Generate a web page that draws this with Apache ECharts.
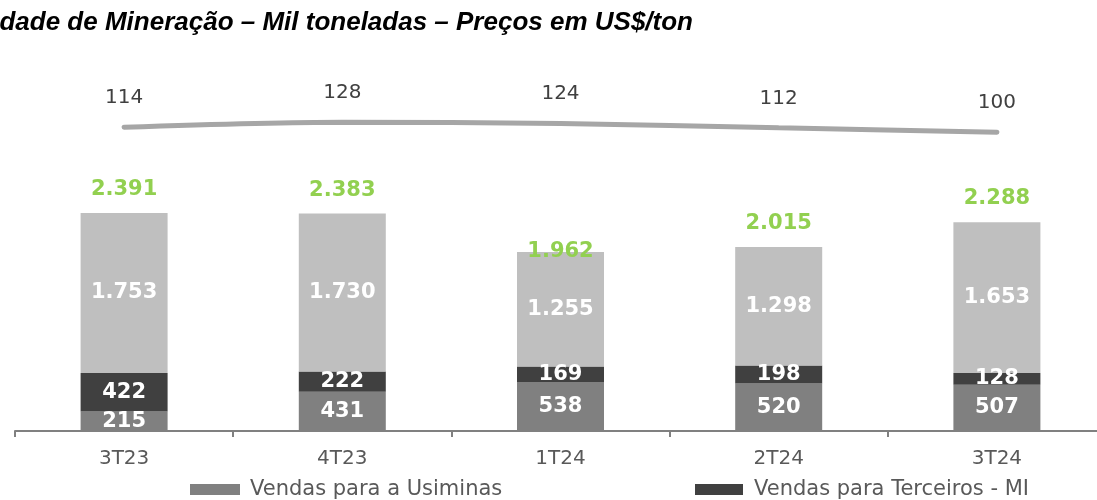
<!DOCTYPE html>
<html>
<head>
<meta charset="utf-8">
<script src="https://cdn.jsdelivr.net/npm/echarts@6/dist/echarts.min.js"></script>
<style>
  html, body { margin: 0; padding: 0; background: #fff; }
  #chart { width: 1097px; height: 500px; }
</style>
</head>
<body>
<div id="chart"></div>
<script>
// trimestres
var quarters = ['3T23', '4T23', '1T24', '2T24', '3T24'];

// volumes (mil toneladas)
var usiminas = [215, 431, 538, 520, 507];
var terceirosMI = [422, 222, 169, 198, 128];
var exportacao = [1753, 1730, 1255, 1298, 1653];
var totals = [2391, 2383, 1962, 2015, 2288];

// preço US$/ton
var prices = [114, 128, 124, 112, 100];

var fontMain = 'DejaVu Sans, Verdana, sans-serif';

function fmt(v) {
  return String(v).replace(/\B(?=(\d{3})+(?!\d))/g, '.');
}

var segLabel = {
  show: true,
  position: 'inside',
  color: '#fff',
  fontFamily: fontMain,
  fontWeight: 'bold',
  fontSize: 21,
  formatter: function (p) { return fmt(p.value); }
};

var chartDom = document.getElementById('chart');
var chart = echarts.init(chartDom);

var option = {
  animation: false,
  title: {
    text: 'Unidade de Mineração – Mil toneladas – Preços em US$/ton',
    right: 404,
    top: 10,
    padding: 0,
    textStyle: {
      fontFamily: 'Liberation Sans, Arial, sans-serif',
      fontStyle: 'italic',
      fontWeight: 'bold',
      fontSize: 26,
      color: '#000'
    }
  },
  legend: [{
    data: ['Vendas para a Usiminas'],
    left: 185,
    top: 474,
    itemWidth: 50,
    itemHeight: 11,
    icon: 'rect',
    textStyle: { fontFamily: fontMain, fontSize: 21, color: '#595959', padding: [0, 0, 0, 5] }
  }, {
    data: ['Vendas para Terceiros - MI'],
    left: 690,
    top: 474,
    itemWidth: 48,
    itemHeight: 11,
    icon: 'rect',
    textStyle: { fontFamily: fontMain, fontSize: 21, color: '#595959', padding: [0, 0, 0, 6] }
  }],
  grid: [
    { left: 15, width: 1091, top: 150, bottom: 69, outerBoundsMode: 'none' },
    { left: 15, width: 1091, top: 110, height: 30, outerBoundsMode: 'none' }
  ],
  xAxis: [{
    type: 'category',
    gridIndex: 0,
    data: quarters,
    axisLine: { lineStyle: { color: '#808080', width: 2 } },
    axisTick: { show: true, length: 6, lineStyle: { color: '#808080', width: 2 } },
    axisLabel: { margin: 18, fontFamily: fontMain, fontSize: 20, color: '#595959' }
  }, {
    type: 'category',
    gridIndex: 1,
    data: quarters,
    show: false
  }],
  yAxis: [{
    type: 'value',
    gridIndex: 0,
    min: 0,
    max: 3080,
    show: false
  }, {
    type: 'value',
    gridIndex: 1,
    min: 78,
    max: 162,
    show: false
  }],
  series: [{
    name: 'Vendas para a Usiminas',
    type: 'bar',
    stack: 'vol',
    barWidth: 87,
    data: usiminas,
    itemStyle: { color: '#808080' },
    label: segLabel
  }, {
    name: 'Vendas para Terceiros - MI',
    type: 'bar',
    stack: 'vol',
    barWidth: 87,
    data: terceirosMI,
    itemStyle: { color: '#404040' },
    label: segLabel
  }, {
    name: 'Exportação',
    type: 'bar',
    stack: 'vol',
    barWidth: 87,
    data: exportacao,
    itemStyle: { color: '#bfbfbf' },
    label: segLabel
  }, {
    name: 'Total',
    type: 'bar',
    stack: 'vol',
    barWidth: 87,
    data: totals.map(function (v, i) {
      var item = { value: 0 };
      if (i === 2) item.label = { offset: [0, 23] };
      return item;
    }),
    itemStyle: { color: 'transparent' },
    label: {
      show: true,
      position: 'top',
      distance: 13,
      color: '#92d050',
      fontFamily: fontMain,
      fontWeight: 'bold',
      fontSize: 21,
      formatter: function (p) { return fmt(totals[p.dataIndex]); }
    }
  }, {
    name: 'Preço',
    type: 'line',
    xAxisIndex: 1,
    yAxisIndex: 1,
    data: prices,
    smooth: 0.3,
    clip: false,
    symbol: 'circle',
    symbolSize: 1,
    itemStyle: { color: '#a6a6a6' },
    lineStyle: { color: '#a6a6a6', width: 5, cap: 'round' },
    label: {
      show: true,
      position: 'top',
      distance: 19,
      color: '#404040',
      fontFamily: fontMain,
      fontSize: 20
    }
  }]
};

chart.setOption(option);
</script>
</body>
</html>
